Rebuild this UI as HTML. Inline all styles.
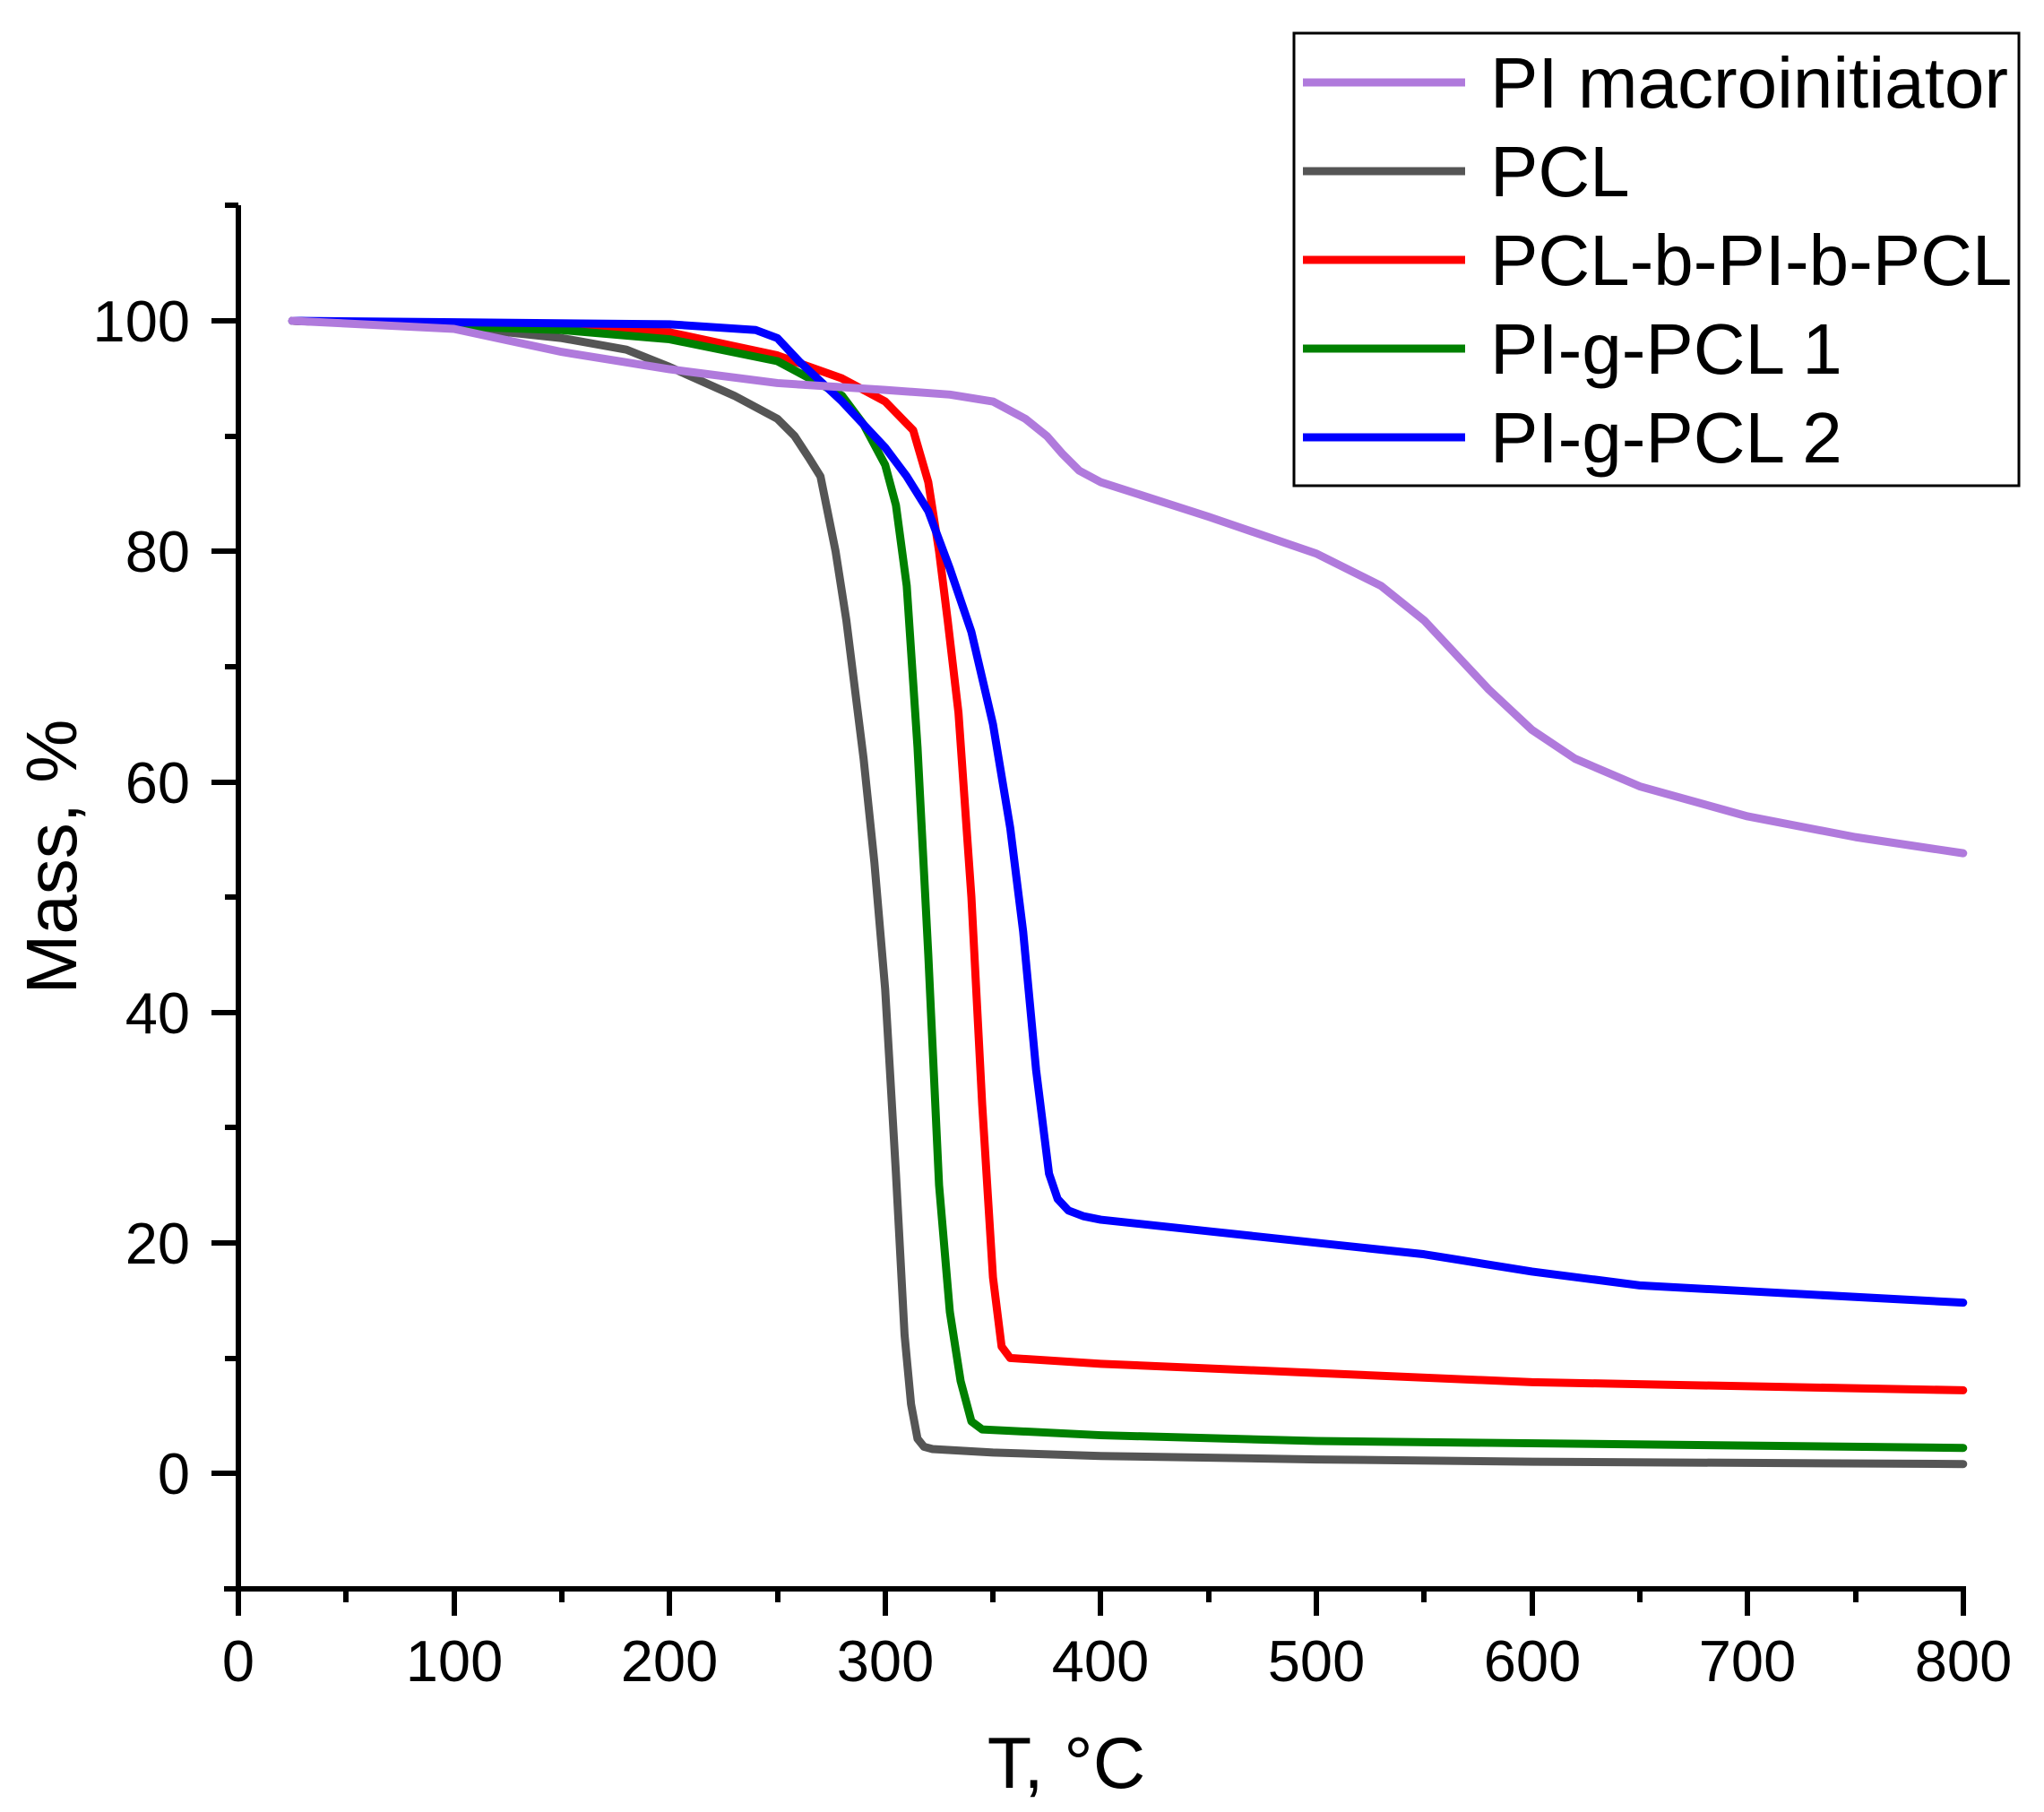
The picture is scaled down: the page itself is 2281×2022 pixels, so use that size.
<!DOCTYPE html>
<html><head><meta charset="utf-8"><style>html,body{margin:0;padding:0;background:#fff}svg{display:block}</style></head>
<body>
<svg width="2281" height="2022" viewBox="0 0 2281 2022" xmlns="http://www.w3.org/2000/svg" font-family="Liberation Sans, Arial, sans-serif">
<rect width="2281" height="2022" fill="#fff"/>
<g transform="translate(266,1644) scale(2.406,-12.86)" fill="none" stroke-linejoin="round" stroke-linecap="round">
<polyline vector-effect="non-scaling-stroke" stroke="#555555" stroke-width="9" points="25,100 100,99.5 150,98.5 180,97.5 200,96 230,93.5 250,91.5 258,90 265,88 270,86.5 277,80 282,74 286,68 290,62 295,53 300,42 305,26 309,12 312,6 315,3 318,2.3 322,2.1 350,1.8 400,1.5 500,1.2 600,1 800,0.8"/>
<polyline vector-effect="non-scaling-stroke" stroke="#ff0000" stroke-width="9" points="25,100 200,99 250,97 280,95 300,93 313,90.5 320,86 325,80 329,74 334,66 340,50 345,32 350,17 354,11 358,10 400,9.5 500,8.7 600,7.9 800,7.2"/>
<polyline vector-effect="non-scaling-stroke" stroke="#008000" stroke-width="9" points="25,100 150,99.2 200,98.4 250,96.5 270,94.5 280,93.5 290,91 300,87.5 305,84 310,77 315,63 320,45 325,25 330,14 335,8 340,4.5 345,3.8 400,3.3 500,2.8 800,2.2"/>
<polyline vector-effect="non-scaling-stroke" stroke="#0000ff" stroke-width="9" points="25,100 200,99.7 240,99.2 250,98.5 260,96.5 280,93 300,89 310,86.5 320,83.5 330,78.5 340,73 350,65 358,56 364,47 370,35 376,26 380,23.8 385,22.8 392,22.3 400,22 450,21 500,20 550,19 600,17.5 650,16.3 700,15.8 800,14.8"/>
<polyline vector-effect="non-scaling-stroke" stroke="#b07adc" stroke-width="9" points="25,100 100,99.3 150,97.3 200,95.8 250,94.6 300,94 330,93.6 350,93 365,91.5 375,90 382,88.5 390,87 400,86 450,83 500,79.8 530,77 550,74 570,70 580,68 600,64.5 620,62 650,59.6 700,57 750,55.2 800,53.8"/>
</g>
<g stroke="#000" stroke-width="6" fill="none">
<line x1="266" y1="229" x2="266" y2="1803"/>
<line x1="250" y1="1773" x2="2194" y2="1773"/>
<line x1="251" y1="229" x2="266" y2="229"/>
<line x1="236" y1="358" x2="266" y2="358"/>
<line x1="251" y1="487" x2="266" y2="487"/>
<line x1="236" y1="615" x2="266" y2="615"/>
<line x1="251" y1="744" x2="266" y2="744"/>
<line x1="236" y1="873" x2="266" y2="873"/>
<line x1="251" y1="1001" x2="266" y2="1001"/>
<line x1="236" y1="1130" x2="266" y2="1130"/>
<line x1="251" y1="1258" x2="266" y2="1258"/>
<line x1="236" y1="1387" x2="266" y2="1387"/>
<line x1="251" y1="1516" x2="266" y2="1516"/>
<line x1="236" y1="1644" x2="266" y2="1644"/>
<line x1="386" y1="1773" x2="386" y2="1788"/>
<line x1="507" y1="1773" x2="507" y2="1803"/>
<line x1="627" y1="1773" x2="627" y2="1788"/>
<line x1="747" y1="1773" x2="747" y2="1803"/>
<line x1="868" y1="1773" x2="868" y2="1788"/>
<line x1="988" y1="1773" x2="988" y2="1803"/>
<line x1="1108" y1="1773" x2="1108" y2="1788"/>
<line x1="1228" y1="1773" x2="1228" y2="1803"/>
<line x1="1349" y1="1773" x2="1349" y2="1788"/>
<line x1="1469" y1="1773" x2="1469" y2="1803"/>
<line x1="1589" y1="1773" x2="1589" y2="1788"/>
<line x1="1710" y1="1773" x2="1710" y2="1803"/>
<line x1="1830" y1="1773" x2="1830" y2="1788"/>
<line x1="1950" y1="1773" x2="1950" y2="1803"/>
<line x1="2071" y1="1773" x2="2071" y2="1788"/>
<line x1="2191" y1="1773" x2="2191" y2="1803"/>
</g>
<g font-size="65" fill="#000" text-anchor="end">
<text x="212" y="381">100</text>
<text x="212" y="638">80</text>
<text x="212" y="896">60</text>
<text x="212" y="1153">40</text>
<text x="212" y="1410">20</text>
<text x="212" y="1667">0</text>
</g>
<g font-size="65" fill="#000" text-anchor="middle">
<text x="266" y="1876">0</text>
<text x="507" y="1876">100</text>
<text x="747" y="1876">200</text>
<text x="988" y="1876">300</text>
<text x="1228" y="1876">400</text>
<text x="1469" y="1876">500</text>
<text x="1710" y="1876">600</text>
<text x="1950" y="1876">700</text>
<text x="2191" y="1876">800</text>
</g>
<text x="1190" y="1995" font-size="81" text-anchor="middle">T, °C</text>
<text transform="translate(85,956) rotate(-90)" font-size="80" text-anchor="middle">Mass, %</text>
<rect x="1444" y="37" width="809" height="505" fill="#fff" stroke="#000" stroke-width="3"/>
<g stroke-width="9">
<line x1="1454" y1="92" x2="1635" y2="92" stroke="#b07adc"/>
<line x1="1454" y1="191" x2="1635" y2="191" stroke="#555555"/>
<line x1="1454" y1="290" x2="1635" y2="290" stroke="#ff0000"/>
<line x1="1454" y1="389" x2="1635" y2="389" stroke="#008000"/>
<line x1="1454" y1="488" x2="1635" y2="488" stroke="#0000ff"/>
</g>
<g font-size="80" fill="#000">
<text x="1663" y="120">PI macroinitiator</text>
<text x="1663" y="219">PCL</text>
<text x="1663" y="318">PCL-b-PI-b-PCL</text>
<text x="1663" y="417">PI-g-PCL 1</text>
<text x="1663" y="516">PI-g-PCL 2</text>
</g>
</svg>
</body></html>
